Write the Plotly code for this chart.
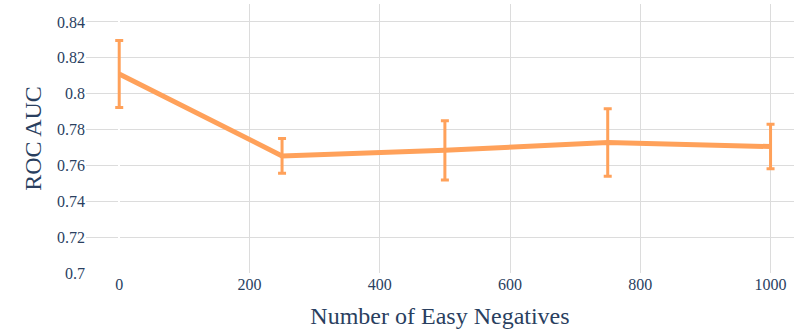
import plotly.graph_objects as go

# Mean ROC AUC per number of easy negatives, with standard-deviation error bars
easy_negatives = [0, 250, 500, 750, 1000]
roc_auc = [0.811, 0.7653, 0.7684, 0.7728, 0.7705]
roc_auc_err = [0.0187, 0.0097, 0.0165, 0.0188, 0.0124]

ORANGE = "#FFA15A"
FONT = "Liberation Serif"
TEXT = "#2a3f5f"

fig = go.Figure(
    go.Scatter(
        x=easy_negatives,
        y=roc_auc,
        mode="lines",
        line=dict(color=ORANGE, width=5),
        error_y=dict(type="data", array=roc_auc_err, visible=True,
                     color=ORANGE, thickness=3, width=4),
        showlegend=False,
    )
)

fig.update_layout(
    width=794,
    height=330,
    margin=dict(l=86, r=0, t=4, b=57),
    plot_bgcolor="white",
    paper_bgcolor="white",
    font=dict(family=FONT, color=TEXT, size=16),
)
fig.update_xaxes(
    range=[-51, 1036],
    tickvals=[0, 200, 400, 600, 800, 1000],
    showgrid=True, gridcolor="#dcdcdc", gridwidth=1,
    zeroline=True, zerolinecolor="white", zerolinewidth=2,
    showline=False, ticks="",
    title=dict(text="Number of Easy Negatives", font=dict(size=24, family=FONT, color=TEXT),
               standoff=15),
    tickfont=dict(size=16, family=FONT, color=TEXT),
)
fig.update_yaxes(
    range=[0.7, 0.85],
    tickvals=[0.7, 0.72, 0.74, 0.76, 0.78, 0.8, 0.82, 0.84],
    ticktext=["0.7", "0.72", "0.74", "0.76", "0.78", "0.8", "0.82", "0.84"],
    showgrid=True, gridcolor="#dcdcdc", gridwidth=1,
    zeroline=False, showline=False, ticks="",
    title=dict(text="ROC AUC", font=dict(size=24, family=FONT, color=TEXT), standoff=8),
    tickfont=dict(size=16, family=FONT, color=TEXT),
)

fig.write_html("out.html")
